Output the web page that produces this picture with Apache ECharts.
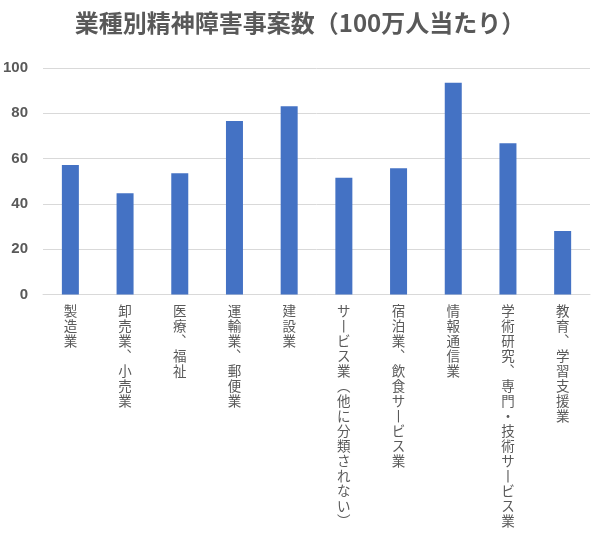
<!DOCTYPE html>
<html>
<head>
<meta charset="utf-8">
<script src="https://cdn.jsdelivr.net/npm/echarts@6/dist/echarts.min.js"></script>
<style>html,body{margin:0;padding:0;background:#fff}#c{width:600px;height:534px}</style>
</head>
<body>
<div id="c"></div>
<script>
var categories = ["製造業","卸売業、小売業","医療、福祉","運輸業、郵便業","建設業","サービス業（他に分類されない）","宿泊業、飲食サービス業","情報通信業","学術研究、専門・技術サービス業","教育、学習支援業"];
var values = [57.2, 44.7, 53.5, 76.6, 83.1, 51.6, 55.7, 93.5, 66.8, 28.0];
var yTicks = [0, 20, 40, 60, 80, 100];

function vertical(s) {
  var map = {"ー":"丨","（":"︵","）":"︶","、":"︑"};
  return s.split("").map(function(ch){ return map[ch] || ch; }).join("\n");
}

var chart = echarts.init(document.getElementById('c'));
chart.setOption({
  animation: false,
  title: {
    text: "業種別精神障害事案数（100万人当たり）",
    left: 'center',
    top: 6,
    textStyle: {fontFamily: "Noto Sans CJK JP", fontSize: 24, fontWeight: 'bold', color: '#595959'}
  },
  grid: {left: 42, right: 10, top: 68, bottom: 239.5},
  xAxis: {
    type: 'category',
    data: categories,
    axisLine: {lineStyle: {color: '#d9d9d9', width: 1}},
    axisTick: {show: false},
    axisLabel: {
      interval: 0,
      margin: 9,
      formatter: vertical,
      fontFamily: "Noto Sans CJK JP",
      fontSize: 13.5,
      lineHeight: 15,
      color: '#595959',
      verticalAlign: 'top'
    }
  },
  yAxis: {
    type: 'value',
    min: yTicks[0],
    max: yTicks[yTicks.length - 1],
    interval: 20,
    axisLine: {show: false},
    axisTick: {show: false},
    splitLine: {lineStyle: {color: '#d9d9d9', width: 1}},
    axisLabel: {margin: 15, fontFamily: "Liberation Sans", fontSize: 15, fontWeight: 'bold', color: '#595959'}
  },
  series: [{
    type: 'bar',
    data: values,
    barWidth: 17,
    itemStyle: {color: '#4472C4'}
  }]
});
</script>
</body>
</html>
